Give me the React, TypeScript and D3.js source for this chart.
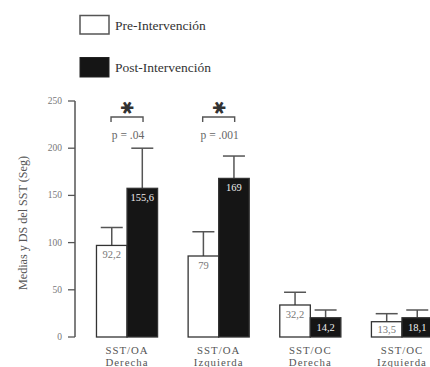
import React from "react";
import * as d3 from "d3";

const categories = ["SST/OA|Derecha", "SST/OA|Izquierda", "SST/OC|Derecha", "SST/OC|Izquierda"];
const series = ["Pre-Intervención", "Post-Intervención"];
// bar heights as drawn in the picture
const preValues = [97, 85.8, 33.9, 16.2];
const postValues = [157.5, 168, 20.4, 20.4];
const preSD = [19, 25.7, 13.5, 8.5];
const postSD = [42.5, 23.7, 8.2, 8.2];
const preLabels = ["92,2", "79", "32,2", "13,5"];
const postLabels = ["155,6", "169", "14,2", "18,1"];
const yTicks = [0, 50, 100, 150, 200, 250];
const significance = [
  { cat: 0, p: "p = .04" },
  { cat: 1, p: "p = .001" },
];

const W = 430;
const H = 367;
const serif = { fontFamily: '"Liberation Serif", "DejaVu Serif", "Times New Roman", serif' };

export default function App() {
  const y = d3.scaleLinear().domain([0, 250]).range([337, 101]);
  const x0 = d3.scaleBand().domain(categories).range([81.2, 447.8]).padding(0);
  const x1 = d3.scaleBand().domain(series).range([0, x0.bandwidth()]).paddingInner(0).paddingOuter(0.5);
  const bw = x1.bandwidth();
  const axisX = 75;
  const grey = "#555";

  const bars: any[] = [];
  categories.forEach((c, i) => {
    [
      { s: series[0], v: preValues[i], sd: preSD[i], lab: preLabels[i], fill: "#fff", tc: "#777" },
      { s: series[1], v: postValues[i], sd: postSD[i], lab: postLabels[i], fill: "#151515", tc: "#eee" },
    ].forEach((b, j) => {
      const bx = (x0(c) as number) + (x1(b.s) as number);
      const top = y(b.v);
      const cx = bx + bw / 2;
      const errTop = y(b.v + b.sd);
      const labelY = Math.min(top + 13, y(0) - 4);
      bars.push(
        <g key={`${i}-${j}`}>
          <line x1={cx} x2={cx} y1={top} y2={errTop} stroke={grey} strokeWidth={1.5} />
          <line x1={cx - 11} x2={cx + 11} y1={errTop} y2={errTop} stroke={grey} strokeWidth={1.5} />
          <rect x={bx} y={top} width={bw} height={y(0) - top} fill={b.fill} stroke="#333" strokeWidth={1.3} />
          <text x={cx} y={labelY} textAnchor="middle" style={serif} fontSize={10.5} fill={b.tc}>
            {b.lab}
          </text>
        </g>
      );
    });
  });

  return (
    <svg width={W} height={H} style={{ position: "absolute", left: 0, top: 0, background: "#fff" }}>
      {/* legend */}
      <rect x={80} y={15.5} width={29} height={18.5} fill="#fff" stroke="#555" strokeWidth={1.5} />
      <text x={115} y={29.5} style={serif} fontSize={13.5} fill="#333">{series[0]}</text>
      <rect x={80} y={57.5} width={29} height={19.5} fill="#151515" stroke="#222" strokeWidth={1} />
      <text x={115} y={71.5} style={serif} fontSize={13.5} fill="#333">{series[1]}</text>

      {/* y axis */}
      <line x1={axisX} x2={axisX} y1={y(250)} y2={y(0)} stroke={grey} strokeWidth={1.5} />
      {yTicks.map((t) => (
        <g key={t}>
          <line x1={axisX - 7} x2={axisX} y1={y(t)} y2={y(t)} stroke={grey} strokeWidth={1.3} />
          <text x={62} y={y(t) + 3} textAnchor="end" style={serif} fontSize={9.5} fill="#777">
            {t}
          </text>
        </g>
      ))}
      <text
        transform={`translate(27,223) rotate(-90)`}
        textAnchor="middle"
        style={serif}
        fontSize={12}
        fill="#555"
        textLength={134}
        lengthAdjust="spacingAndGlyphs"
      >
        Medias y DS del SST (Seg)
      </text>

      {bars}

      {/* significance */}
      {significance.map((s) => {
        const c = categories[s.cat];
        const cx = (x0(c) as number) + x0.bandwidth() / 2;
        return (
          <g key={s.cat}>
            <text
              transform={`translate(${cx},107.5) rotate(90)`}
              textAnchor="middle"
              dominantBaseline="central"
              style={{ fontFamily: '"DejaVu Sans", sans-serif' }}
              fontSize={17}
              fill="#333"
            >
              ✱
            </text>
            <path
              d={`M${cx - 16},122 V117 H${cx + 16} V122`}
              fill="none"
              stroke={grey}
              strokeWidth={1.4}
            />
            <text x={cx + 1} y={139} textAnchor="middle" style={serif} fontSize={11.5} fill="#666">
              {s.p}
            </text>
          </g>
        );
      })}

      {/* category labels */}
      {categories.map((c) => {
        const cx = (x0(c) as number) + x0.bandwidth() / 2;
        const [a, b] = c.split("|");
        return (
          <g key={c}>
            <text x={cx} y={353.5} textAnchor="middle" style={serif} fontSize={10.8} letterSpacing={1} fill="#555">{a}</text>
            <text x={cx} y={365.5} textAnchor="middle" style={serif} fontSize={10.8} letterSpacing={1} fill="#555">{b}</text>
          </g>
        );
      })}
    </svg>
  );
}
